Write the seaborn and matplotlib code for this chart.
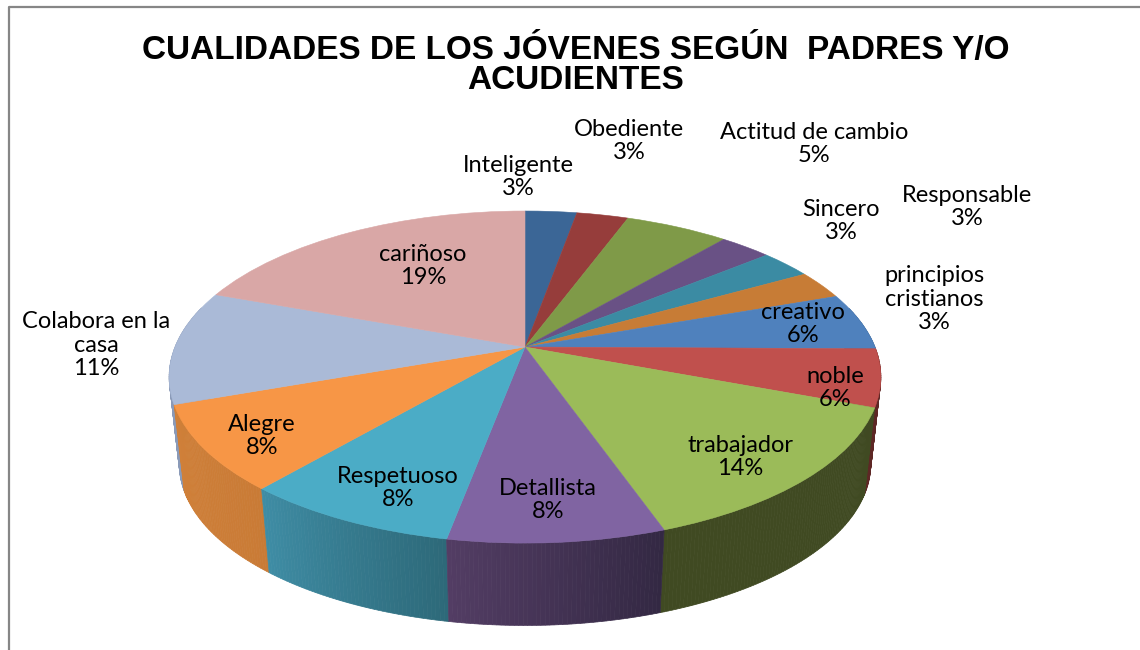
import numpy as np
import matplotlib
matplotlib.use("Agg")
import matplotlib.pyplot as plt
from matplotlib.colors import to_rgb
from matplotlib.transforms import Transform
import seaborn as sns

# ---- data -----------------------------------------------------------------
categories = ["Inteligente", "Obediente", "Actitud de cambio", "Sincero", "Responsable",
              "principios\ncristianos", "creativo", "noble", "trabajador", "Detallista",
              "Respetuoso", "Alegre", "Colabora en la\ncasa", "cariñoso"]
values = [2.8, 2.8, 5.6, 2.8, 2.8, 2.8, 5.6, 5.6, 13.9, 8.3, 8.3, 8.3, 11.1, 19.4]
pct_labels = ["3%", "3%", "5%", "3%", "3%", "3%", "6%", "6%", "14%", "8%", "8%", "8%", "11%", "19%"]
title = "CUALIDADES DE LOS JÓVENES SEGÚN  PADRES Y/O\nACUDIENTES"

# ---- styles ---------------------------------------------------------------
top_colors = ["#3b6696", "#963d3b", "#7f9a48", "#695185", "#3b8ba3", "#c77c36", "#4f81bd",
              "#c0504d", "#9bbb59", "#8064a2", "#4bacc6", "#f79646", "#aabad7", "#d9a7a6"]
wall_left = ["#2c4c70", "#702d2c", "#5f7336", "#4e3c63", "#2c687a", "#955d28", "#3b608d",
             "#5e2725", "#404a22", "#533d64", "#3f8da5", "#d08039", "#8a9ab8", "#b08a8a"]
wall_right = ["#2c4c70", "#702d2c", "#5f7336", "#4e3c63", "#2c687a", "#955d28", "#3b608d",
              "#5e2725", "#404a22", "#332843", "#2d6979", "#c97b36", "#8a9ab8", "#b08a8a"]
label_xy = [(518, 177), (629, 141), (814, 144), (841, 221), (967, 207), (934, 299), (803, 324),
            (835, 388), (740, 457), (548, 500), (398, 488), (262, 436), (96, 345), (423, 266)]

sns.set_theme(style="white")
plt.rcParams["font.family"] = ["Lato", "DejaVu Sans"]


class Persp(Transform):
    """Perspective view of the unit pie disc, in picture coordinates."""
    input_dims = output_dims = 2

    def __init__(self, cx, cy, a, b, k):
        super().__init__()
        self.p = (cx, cy, a, b, k)

    def transform_non_affine(self, xy):
        xy = np.asarray(xy, float)
        cx, cy, a, b, k = self.p
        w = 1 + k * xy[:, 1]
        return np.column_stack([cx + a * xy[:, 0] / w, cy - b * xy[:, 1] / w])


K = 0.181
top_proj = Persp(525, 347, 350, 160.6, K)
low_proj = Persp(525, 435, 340, 156, K)

fig = plt.figure(figsize=(11.4, 6.5), dpi=100, facecolor="white")
ax = fig.add_axes([0, 0, 1, 1])

# top face
wedges, _ = ax.pie(values, colors=sns.color_palette(top_colors), startangle=90,
                   counterclock=False, radius=1,
                   wedgeprops=dict(linewidth=0.4, zorder=5))
for w, c in zip(wedges, top_colors):
    w.set_transform(top_proj + ax.transData)
    w.set_edgecolor(c)

ax.set_aspect("auto")
ax.set_xlim(0, 1140)
ax.set_ylim(650, 0)
ax.axis("off")

# side wall
frac = np.cumsum([0] + values) / sum(values)
strips = []
for i in range(len(values)):
    n = max(2, int(values[i] * 6))
    th = np.radians(90 - 360 * np.linspace(frac[i], frac[i + 1], n + 1))
    cl, cr = np.array(to_rgb(wall_left[i])), np.array(to_rgb(wall_right[i]))
    for j in range(n):
        t = np.array([th[j], th[j + 1]])
        rim = np.column_stack([np.cos(t), np.sin(t)])
        if rim[:, 1].min() > 0.25:
            continue
        # wedges run clockwise: on the front face later angles lie further left
        col = cr + (cl - cr) * (j + 0.5) / n
        strips.append((rim[:, 1].mean(), rim, col))
strips.sort(key=lambda s: -s[0])
for _, rim, col in strips:
    up = top_proj.transform_non_affine(rim)
    lo = low_proj.transform_non_affine(rim)[::-1]
    q = np.vstack([up, lo])
    ax.fill(q[:, 0], q[:, 1], color=col, lw=0.5, zorder=2)

# chart frame (top and left edges only)
ax.plot([8.5, 8.5, 1140], [650, 6.5, 6.5], color="#868686", lw=1.6, zorder=1, clip_on=False)

ax.text(576, 65.5, title, ha="center", va="center", fontsize=24, fontweight="bold",
        family="Liberation Sans", color="black", linespacing=0.97, zorder=10)
for name, pct, (x, y) in zip(categories, pct_labels, label_xy):
    ax.text(x, y, f"{name}\n{pct}", ha="center", va="center", fontsize=17, color="black",
            linespacing=1.14, zorder=10)

fig.savefig("out.png", dpi=100, facecolor="white")
